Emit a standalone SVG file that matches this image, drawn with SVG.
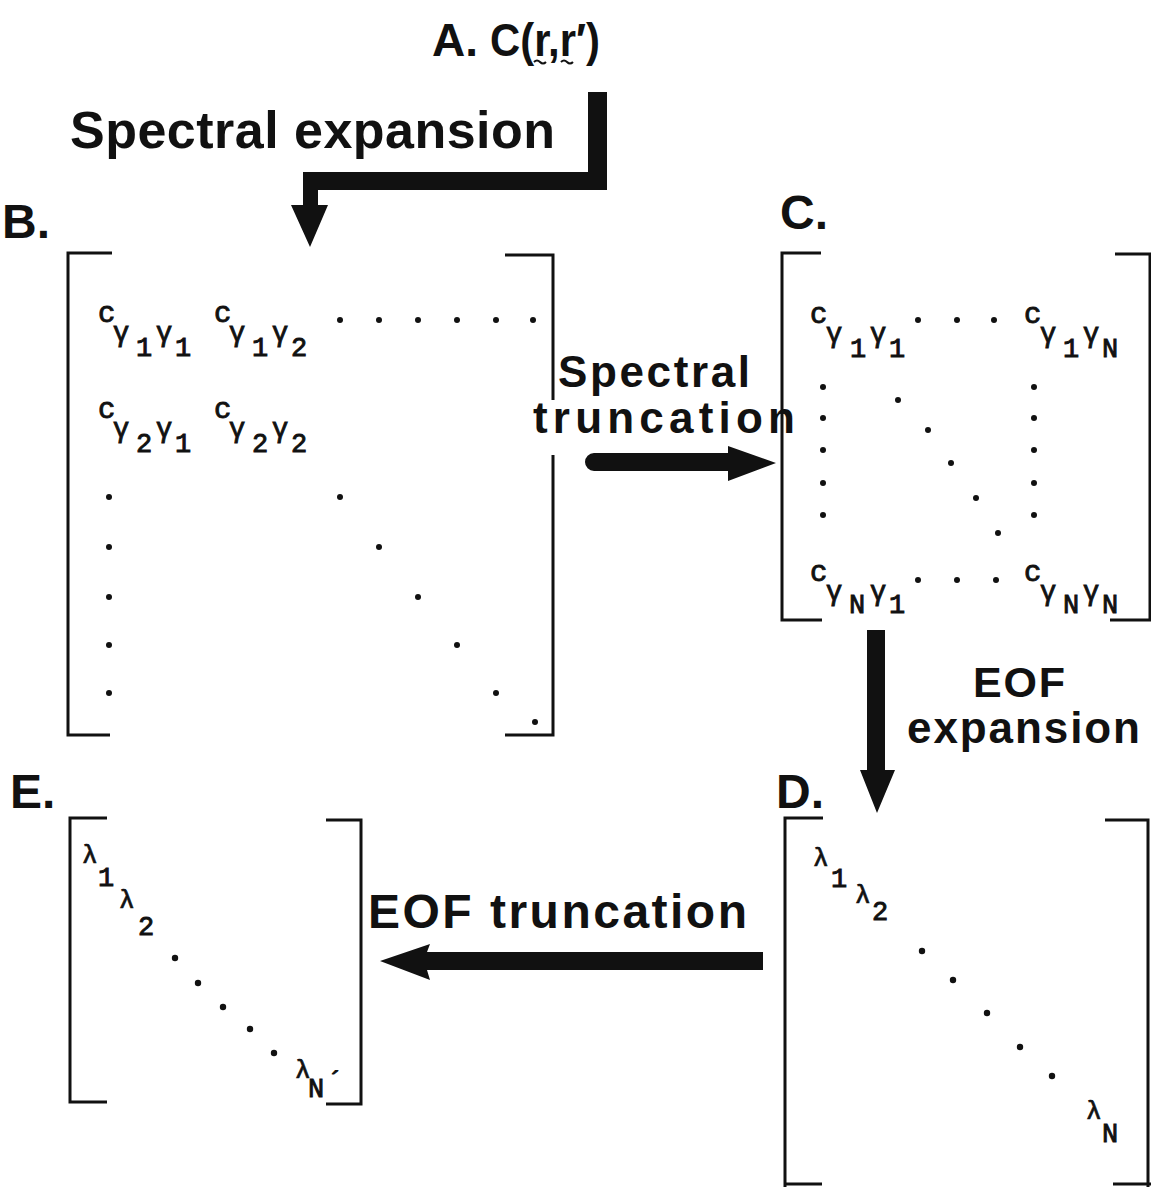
<svg xmlns="http://www.w3.org/2000/svg" width="1151" height="1187" viewBox="0 0 1151 1187">
<defs>
<style>
.lbl{font-family:"Liberation Sans",Arial,sans-serif;font-weight:bold;fill:#111}
.m{font-family:"Liberation Mono","Courier New",monospace;font-size:29px;fill:#111;stroke:#111;stroke-width:0.9}
.g{font-family:"Liberation Mono","Courier New",monospace;font-size:27px;fill:#111;stroke:#111;stroke-width:0.9}
.l{font-family:"Liberation Mono","Courier New",monospace;font-size:26px;fill:#111;stroke:#111;stroke-width:0.7}
.br{stroke:#111;stroke-width:3;fill:none}
.tl{stroke:#111;stroke-width:2;fill:none}
.dot{fill:#111}
.arr{fill:#111}
</style>
</defs>
<rect width="1151" height="1187" fill="#ffffff"/>

<g id="nodeA">
<text class="lbl" x="432" y="56" font-size="46">A.</text>
<text class="lbl" x="490" y="56" font-size="46" textLength="110" lengthAdjust="spacingAndGlyphs">C(r,r′)</text>
<path class="tl" d="M534 62 q3 -3 6 0 t6 0"/>
<path class="tl" d="M561 62 q3 -3 6 0 t6 0"/>
</g>

<g id="nodeB">
<text class="lbl" x="2" y="238" font-size="48">B.</text>
<path class="br" d="M112 253 H68 V735 H110"/>
<path class="br" d="M505 255 H553 V400 M553 455 V735 H505"/>
<text class="m" x="98" y="322">c</text>
<text class="g" x="113" y="341">γ</text><text class="g" x="136" y="356">1</text>
<text class="g" x="156" y="341">γ</text><text class="g" x="175" y="356">1</text>
<text class="m" x="214" y="322">c</text>
<text class="g" x="229" y="341">γ</text><text class="g" x="252" y="356">1</text>
<text class="g" x="272" y="341">γ</text><text class="g" x="291" y="356">2</text>
<text class="m" x="98" y="418">c</text>
<text class="g" x="113" y="437">γ</text><text class="g" x="136" y="452">2</text>
<text class="g" x="156" y="437">γ</text><text class="g" x="175" y="452">1</text>
<text class="m" x="214" y="418">c</text>
<text class="g" x="229" y="437">γ</text><text class="g" x="252" y="452">2</text>
<text class="g" x="272" y="437">γ</text><text class="g" x="291" y="452">2</text>
<g class="dot">
<circle cx="340" cy="320" r="3"/><circle cx="379" cy="320" r="3"/><circle cx="418" cy="320" r="3"/><circle cx="457" cy="320" r="3"/><circle cx="496" cy="320" r="3"/><circle cx="533" cy="320" r="3"/>
<circle cx="109" cy="497" r="3"/><circle cx="109" cy="547" r="3"/><circle cx="109" cy="597" r="3"/><circle cx="109" cy="645" r="3"/><circle cx="109" cy="693" r="3"/>
<circle cx="340" cy="497" r="3"/><circle cx="379" cy="547" r="3"/><circle cx="418" cy="597" r="3"/><circle cx="457" cy="645" r="3"/><circle cx="496" cy="693" r="3"/><circle cx="535" cy="722" r="3"/>
</g>
</g>

<g id="nodeC">
<text class="lbl" x="780" y="229" font-size="48">C.</text>
<path class="br" d="M821 253 H782 V620 H822"/>
<path class="br" d="M1115 254 H1150 V620 H1110"/>
<text class="m" x="810" y="323">c</text>
<text class="g" x="826" y="342">γ</text><text class="g" x="850" y="357">1</text>
<text class="g" x="870" y="342">γ</text><text class="g" x="889" y="357">1</text>
<text class="m" x="1024" y="323">c</text>
<text class="g" x="1040" y="342">γ</text><text class="g" x="1063" y="357">1</text>
<text class="g" x="1083" y="342">γ</text><text class="g" x="1102" y="357">N</text>
<text class="m" x="810" y="581">c</text>
<text class="g" x="826" y="600">γ</text><text class="g" x="849" y="613">N</text>
<text class="g" x="870" y="600">γ</text><text class="g" x="889" y="613">1</text>
<text class="m" x="1024" y="581">c</text>
<text class="g" x="1040" y="600">γ</text><text class="g" x="1063" y="613">N</text>
<text class="g" x="1083" y="600">γ</text><text class="g" x="1102" y="613">N</text>
<g class="dot">
<circle cx="918" cy="320" r="3"/><circle cx="957" cy="320" r="3"/><circle cx="994" cy="320" r="3"/>
<circle cx="823" cy="387" r="3"/><circle cx="823" cy="418" r="3"/><circle cx="823" cy="450" r="3"/><circle cx="823" cy="483" r="3"/><circle cx="823" cy="515" r="3"/>
<circle cx="1034" cy="387" r="3"/><circle cx="1034" cy="418" r="3"/><circle cx="1034" cy="450" r="3"/><circle cx="1034" cy="483" r="3"/><circle cx="1034" cy="515" r="3"/>
<circle cx="898" cy="400" r="3"/><circle cx="928" cy="430" r="3"/><circle cx="951" cy="463" r="3"/><circle cx="976" cy="498" r="3"/><circle cx="998" cy="533" r="3"/>
<circle cx="918" cy="580" r="3"/><circle cx="957" cy="580" r="3"/><circle cx="996" cy="580" r="3"/>
</g>
</g>

<g id="nodeD">
<text class="lbl" x="776" y="808" font-size="48">D.</text>
<path class="br" d="M823 818 H785 V1187"/>
<path class="br" d="M785 1184 H822"/>
<path class="br" d="M1105 820 H1148 V1187"/>
<path class="br" d="M1113 1184 H1151"/>
<text class="l" x="813" y="866">λ</text><text class="g" x="831" y="887">1</text>
<text class="l" x="855" y="903">λ</text><text class="g" x="872" y="920">2</text>
<g class="dot">
<circle cx="922" cy="951" r="3.2"/><circle cx="953" cy="980" r="3.2"/><circle cx="987" cy="1013" r="3.2"/><circle cx="1020" cy="1047" r="3.2"/><circle cx="1052" cy="1076" r="3.2"/>
</g>
<text class="l" x="1086" y="1119">λ</text><text class="g" x="1102" y="1142">N</text>
</g>

<g id="nodeE">
<text class="lbl" x="10" y="808" font-size="48">E.</text>
<path class="br" d="M107 818 H70 V1102 H107"/>
<path class="br" d="M326 820 H361 V1104 H326"/>
<text class="l" x="82" y="863">λ</text><text class="g" x="98" y="886">1</text>
<text class="l" x="119" y="908">λ</text><text class="g" x="138" y="935">2</text>
<g class="dot">
<circle cx="175" cy="958" r="3.2"/><circle cx="198" cy="983" r="3.2"/><circle cx="223" cy="1007" r="3.2"/><circle cx="250" cy="1029" r="3.2"/><circle cx="274" cy="1053" r="3.2"/>
</g>
<text class="l" x="295" y="1078">λ</text><text class="g" x="308" y="1097">N</text><text class="g" x="327" y="1090">´</text>
</g>

<g id="connectors">
<path class="arr" d="M588 92 L607 92 L607 190 L318 190 L318 205 L328 205 L310 247 L291 205 L303 205 L303 172 L588 172 Z"/>
<text class="lbl" x="70" y="148" font-size="52" textLength="485" lengthAdjust="spacing">Spectral expansion</text>

<path class="arr" d="M594 453 L728 453 L728 446 L776 463 L728 481 L728 471 L594 471 A9 9 0 0 1 594 453 Z"/>
<text class="lbl" x="558" y="387" font-size="44" textLength="192" lengthAdjust="spacing">Spectral</text>
<text class="lbl" x="533" y="433" font-size="44" textLength="262" lengthAdjust="spacing">truncation</text>

<path class="arr" d="M867 630 L885 630 L885 770 L895 770 L877 813 L860 770 L867 770 Z"/>
<text class="lbl" x="973" y="697" font-size="43" textLength="92" lengthAdjust="spacing">EOF</text>
<text class="lbl" x="907" y="743" font-size="44" textLength="233" lengthAdjust="spacing">expansion</text>

<path class="arr" d="M380 961 L430 944 L427 952 L763 952 L763 970 L427 970 L430 980 Z"/>
<text class="lbl" x="368" y="928" font-size="48" textLength="379" lengthAdjust="spacing">EOF truncation</text>
</g>
</svg>
